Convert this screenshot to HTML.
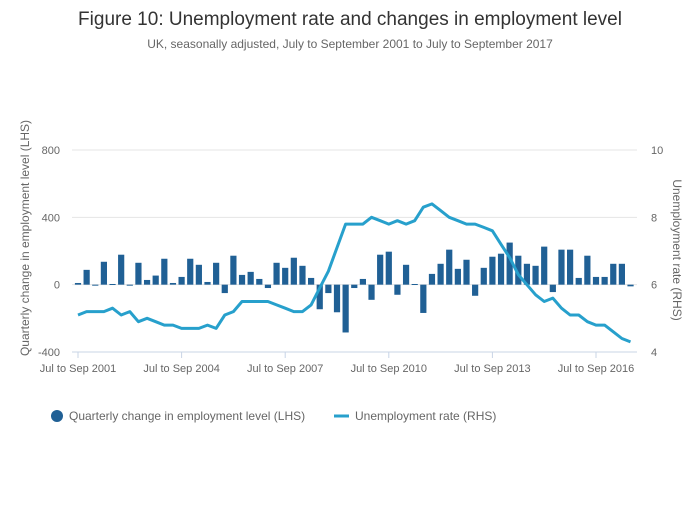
<!DOCTYPE html>
<html><head><meta charset="utf-8">
<style>
body{margin:0;background:#fff;font-family:"Liberation Sans",sans-serif;}
svg text{font-family:"Liberation Sans",sans-serif;}
</style></head>
<body>
<svg id="chart" width="700" height="502" viewBox="0 0 700 502">
<text x="350" y="25" text-anchor="middle" font-size="19" fill="#333">Figure 10: Unemployment rate and changes in employment level</text>
<text x="350" y="48" text-anchor="middle" font-size="12" fill="#666">UK, seasonally adjusted, July to September 2001 to July to September 2017</text>
<g id="grid"></g>
<g id="bars"></g>
<g id="line"></g>
<g id="axes"></g>
<text transform="translate(29,238) rotate(-90)" text-anchor="middle" font-size="12" fill="#666">Quarterly change in employment level (LHS)</text>
<text transform="translate(673,250) rotate(90)" text-anchor="middle" font-size="12" fill="#666">Unemployment rate (RHS)</text>
<g>
<circle cx="57" cy="416" r="6" fill="#206095"/>
<text x="69" y="420" font-size="12" fill="#666">Quarterly change in employment level (LHS)</text>
<rect x="334" y="414.5" width="15" height="3" fill="#27a0cc"/>
<text x="355" y="420" font-size="12" fill="#666">Unemployment rate (RHS)</text>
</g>
</svg>
<script>
const changes=[10,88,-6,136,4,178,-6,130,28,54,154,10,46,154,118,16,130,-50,172,58,76,34,-20,130,100,160,112,40,-146,-50,-164,-284,-20,34,-90,178,196,-60,118,4,-168,64,124,208,94,148,-66,100,166,184,250,172,124,112,226,-44,208,208,40,172,46,46,124,124,-10];
const rates=[5.1,5.2,5.2,5.2,5.3,5.1,5.2,4.9,5.0,4.9,4.8,4.8,4.7,4.7,4.7,4.8,4.7,5.1,5.2,5.5,5.5,5.5,5.5,5.4,5.3,5.2,5.2,5.4,5.9,6.4,7.1,7.8,7.8,7.8,8.0,7.9,7.8,7.9,7.8,7.9,8.3,8.4,8.2,8.0,7.9,7.8,7.8,7.7,7.6,7.2,6.8,6.3,6.0,5.7,5.5,5.6,5.3,5.1,5.1,4.9,4.8,4.8,4.6,4.4,4.3];
const leftTicks=[-400,0,400,800];
const rightTicks=[4,6,8,10];
const xTickIdx=[0,12,24,36,48,60];
const xTickLabels=["Jul to Sep 2001","Jul to Sep 2004","Jul to Sep 2007","Jul to Sep 2010","Jul to Sep 2013","Jul to Sep 2016"];

const NS="http://www.w3.org/2000/svg";
const yTop=150,yBot=352,x0=78,step=(596-78)/60;
function xs(i){return x0+i*step;}
function yl(v){return yBot-(v+400)/1200*(yBot-yTop);}
function yr(v){return yBot-(v-4)/6*(yBot-yTop);}
function mk(tag,attrs,parent){const e=document.createElementNS(NS,tag);for(const k in attrs)e.setAttribute(k,attrs[k]);parent.appendChild(e);return e;}
const grid=document.getElementById('grid'),bars=document.getElementById('bars'),line=document.getElementById('line'),axes=document.getElementById('axes');
leftTicks.forEach((v,i)=>{
  if(v>-400){const g=mk('line',{x1:72,x2:637,y1:yl(v),y2:yl(v),stroke:'#e4e4e4','stroke-width':1},grid);
  
  }
  const t=mk('text',{x:60,y:yl(v)+4,'text-anchor':'end','font-size':11,fill:'#666'},axes);t.textContent=v;
  
  
});
rightTicks.forEach(v=>{
  const t=mk('text',{x:651,y:yr(v)+4,'text-anchor':'start','font-size':11,fill:'#666'},axes);t.textContent=v;
  
  
});
const bw=6.2;
changes.forEach((v,i)=>{
  const y0=yl(0),y1=yl(v);
  const r=mk('rect',{x:xs(i)-bw/2,y:Math.min(y0,y1),width:bw,height:Math.max(1,Math.abs(y1-y0)),fill:'#206095'},bars);
  
  
});
const pts=rates.map((v,i)=>xs(i).toFixed(1)+','+yr(v).toFixed(1)).join(' ');
const pl=mk('polyline',{points:pts,fill:'none',stroke:'#27a0cc','stroke-width':3,'stroke-linejoin':'round'},line);


const ax=mk('line',{x1:72,x2:637,y1:yBot,y2:yBot,stroke:'#c8d4e6','stroke-width':1},axes);


xTickIdx.forEach((idx,k)=>{
  const tk=mk('line',{x1:xs(idx),x2:xs(idx),y1:yBot,y2:yBot+6,stroke:'#c8d4e6'},axes);
  
  
  const t=mk('text',{x:xs(idx),y:372,'text-anchor':'middle','font-size':11,fill:'#666'},axes);t.textContent=xTickLabels[k];
  
  
});
</script>
</body></html>
